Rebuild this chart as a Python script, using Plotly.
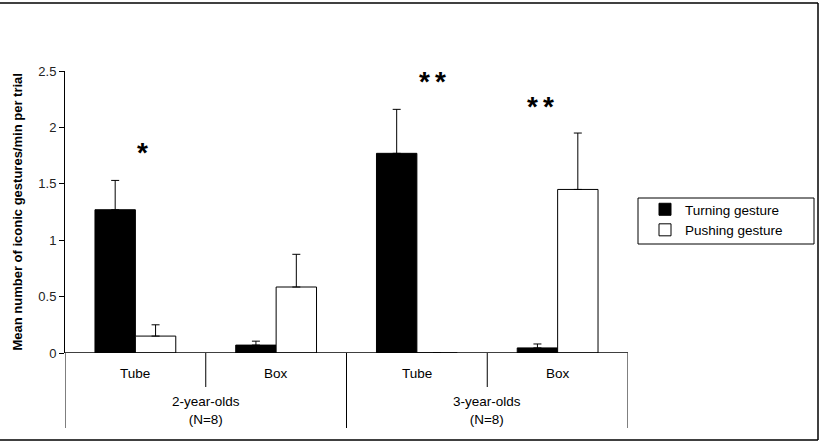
import plotly.graph_objects as go

# ---- data ----
conditions = ["Tube", "Box", "Tube", "Box"]
age_groups = ["2-year-olds<br>(N=8)", "3-year-olds<br>(N=8)"]
turning = [1.27, 0.07, 1.77, 0.045]
turning_err = [0.26, 0.035, 0.39, 0.035]
pushing = [0.15, 0.585, 0.0, 1.45]
pushing_err = [0.10, 0.29, 0.0, 0.50]
sig_stars = [1, 2, 2]          # number of asterisks per marker
sig_x = [0.554, 2.611, 3.375]  # marker centre (category units)
sig_y = [1.81, 2.44, 2.22]     # marker centre (value units)
y_ticks = [0, 0.5, 1, 1.5, 2, 2.5]

W, H = 824, 444
L, R, T, B = 65, 196, 71, 91
PW, PH = W - L - R, H - T - B


def px(x):
    return (x - L) / PW


def py(y):
    return (H - B - y) / PH


FONT = "Liberation Sans, Arial, sans-serif"
FS = 13.5
xpos = [i + 0.5 for i in range(len(conditions))]

fig = go.Figure()
fig.add_trace(go.Bar(
    x=xpos, y=turning, name="Turning gesture",
    marker=dict(color="black", line=dict(color="black", width=1)),
    error_y=dict(type="data", symmetric=False, array=turning_err,
                 arrayminus=[0] * 4, color="black", thickness=1, width=4),
))
fig.add_trace(go.Bar(
    x=xpos, y=pushing, name="Pushing gesture",
    marker=dict(color="white", line=dict(color="black", width=1)),
    error_y=dict(type="data", symmetric=False, array=pushing_err,
                 arrayminus=[0] * 4, color="black", thickness=1, width=4),
))

shapes = []
for i in range(len(conditions) + 1):
    bottom = 428 if i % 2 == 0 else 387
    shapes.append(dict(type="line", xref="x", yref="paper", x0=i, x1=i,
                       y0=0, y1=py(bottom), line=dict(color="black", width=1)))
shapes.append(dict(type="line", xref="x", yref="y", x0=0, x1=4, y0=0, y1=0,
                   line=dict(color="black", width=1.5)))
shapes.append(dict(type="line", xref="paper", yref="paper", x0=px(0), x1=px(818),
                   y0=py(3), y1=py(3), line=dict(color="black", width=1.5)))
shapes.append(dict(type="line", xref="paper", yref="paper", x0=px(818), x1=px(818),
                   y0=py(3), y1=py(440), line=dict(color="black", width=1.5)))
shapes.append(dict(type="line", xref="paper", yref="paper", x0=px(0), x1=px(818),
                   y0=py(440), y1=py(440), line=dict(color="black", width=1.5)))
shapes.append(dict(type="rect", xref="paper", yref="paper", x0=px(638), x1=px(814),
                   y0=py(198), y1=py(244), line=dict(color="black", width=1)))

annotations = []
for i, c in enumerate(conditions):
    annotations.append(dict(x=xpos[i], y=py(373), xref="x", yref="paper", text=c,
                            showarrow=False, font=dict(size=FS, family=FONT, color="black"),
                            yanchor="middle"))
for g, lab in enumerate(age_groups):
    annotations.append(dict(x=2 * g + 1, y=py(410), xref="x", yref="paper", text=lab,
                            showarrow=False, font=dict(size=FS, family=FONT, color="black"),
                            yanchor="middle"))
for n, sx, sy in zip(sig_stars, sig_x, sig_y):
    for k in range(n):
        annotations.append(dict(x=sx, y=sy, xref="x", yref="y", text="<b>*</b>",
                                xshift=(k - (n - 1) / 2) * 16, yshift=-4,
                                showarrow=False, yanchor="middle", xanchor="center",
                                font=dict(size=28, family=FONT, color="black")))
annotations.append(dict(x=0, y=0.5, xref="paper", yref="paper", xshift=-58,
                        text="<b>Mean number of iconic gestures/min per trial</b>",
                        textangle=-90, showarrow=False,
                        font=dict(size=13, family=FONT, color="black")))

fig.update_layout(
    width=W, height=H,
    margin=dict(l=L, r=R, t=T, b=B),
    paper_bgcolor="white", plot_bgcolor="white",
    barmode="group", bargap=0.426, bargroupgap=0,
    showlegend=True,
    legend=dict(x=px(645), y=py(194), xanchor="left", yanchor="top",
                font=dict(size=FS, family=FONT, color="black"),
                bgcolor="rgba(0,0,0,0)", borderwidth=0,
                itemwidth=30, tracegroupgap=0),
    xaxis=dict(range=[0, 4], showticklabels=False, ticks="", showgrid=False,
               zeroline=False, showline=False, fixedrange=True),
    yaxis=dict(range=[0, 2.5], tickvals=y_ticks, ticktext=[f"{v:g}" for v in y_ticks],
               ticks="outside", ticklen=5, tickcolor="black", showgrid=False,
               zeroline=False, showline=True, linecolor="black", linewidth=1,
               tickfont=dict(size=13, family=FONT, color="#222")),
    shapes=shapes,
    annotations=annotations,
)

fig.write_html("out.html")
